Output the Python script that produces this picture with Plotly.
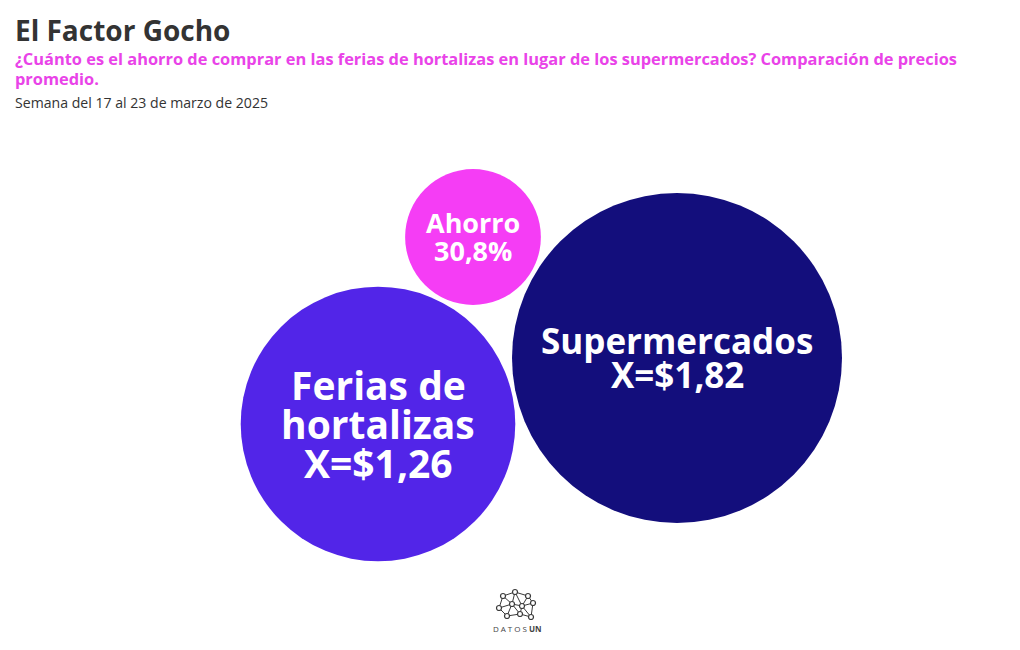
import plotly.graph_objects as go

# ---- data ----
categories = ["Ferias de hortalizas", "Supermercados", "Ahorro"]
label_lines = [["Ferias de", "hortalizas"], ["Supermercados"], ["Ahorro"]]
values = [1.26, 1.82, 0.308]          # average price (USD) and saving share
value_kind = ["price", "price", "pct"]

# ---- layout / style (not data) ----
# the page has an 8px body margin, so the figure is drawn in page pixels 8..1012
OFF = 8
W, H = 1020 - 2 * OFF, 650 - 2 * OFF
centers_x = [378, 677, 473]
centers_y = [424, 358, 237]
colors = ["#5225E8", "#130E7C", "#F53DF5"]
font_sizes = [39, 35, 27]
line_gap = [39, 34, 28]
max_diameter = 330
FONT = "Open Sans"

def fmt(v, kind):
    if kind == "price":
        return "X=$" + f"{v:.2f}".replace(".", ",")
    return f"{v*100:.1f}".replace(".", ",") + "%"

fig = go.Figure()
fig.add_trace(go.Scatter(
    x=centers_x, y=centers_y, mode="markers",
    marker=dict(size=values, sizemode="area",
                sizeref=2 * max(values) / max_diameter ** 2,
                color=colors, line=dict(width=0), opacity=1),
    hovertext=categories, hoverinfo="text", showlegend=False,
))

annotations = []
for i, cat in enumerate(categories):
    lines = label_lines[i] + [fmt(values[i], value_kind[i])]
    n = len(lines)
    for j, t in enumerate(lines):
        off = (j - (n - 1) / 2) * line_gap[i]
        annotations.append(dict(
            x=centers_x[i], y=centers_y[i], xref="x", yref="y",
            text=f"<b>{t}</b>", showarrow=False, yshift=-off + 1,
            font=dict(family=FONT, size=font_sizes[i], color="white"),
            xanchor="center", yanchor="middle"))

# titles
annotations += [
    dict(x=13, y=30, xref="x", yref="y", text="<b>El Factor Gocho</b>", showarrow=False,
         xanchor="left", yanchor="middle", font=dict(family=FONT, size=28, color="#333333")),
    dict(x=13, y=58, xref="x", yref="y",
         text="<b>¿Cuánto es el ahorro de comprar en las ferias de hortalizas en lugar de los supermercados? Comparación de precios</b>",
         showarrow=False, xanchor="left", yanchor="middle",
         font=dict(family=FONT, size=16.4, color="#E943E8")),
    dict(x=13, y=78, xref="x", yref="y", text="<b>promedio.</b>", showarrow=False,
         xanchor="left", yanchor="middle", font=dict(family=FONT, size=16.4, color="#E943E8")),
    dict(x=13, y=102, xref="x", yref="y", text="Semana del 17 al 23 de marzo de 2025", showarrow=False,
         xanchor="left", yanchor="middle", font=dict(family=FONT, size=14.1, color="#333333")),
    dict(x=517, y=628, xref="x", yref="y",
         text="<span style='letter-spacing:2px'>DATOS</span><b>UN</b>", showarrow=False,
         xanchor="center", yanchor="middle", font=dict(family=FONT, size=8, color="#444444")),
]

# logo network icon (decorative)
nodes_x = [503, 515, 528, 499, 512, 522, 533, 507, 520, 531]
nodes_y = [596, 592, 596, 608, 604, 606, 603, 616, 614, 617]
edges = [(0,1),(1,2),(0,3),(0,4),(1,4),(2,5),(2,6),(3,4),(4,5),(5,6),(3,7),(4,7),(4,8),(5,8),(6,9),(8,9),(7,8),(5,9),(1,5)]
ex, ey = [], []
for a, b in edges:
    ex += [nodes_x[a], nodes_x[b], None]
    ey += [nodes_y[a], nodes_y[b], None]
fig.add_trace(go.Scatter(x=ex, y=ey, mode="lines", line=dict(color="#3a3a3a", width=1),
                         hoverinfo="skip", showlegend=False))
fig.add_trace(go.Scatter(x=nodes_x, y=nodes_y, mode="markers",
                         marker=dict(size=5, color="white", line=dict(color="#3a3a3a", width=1.2)),
                         hoverinfo="skip", showlegend=False))

fig.update_layout(
    width=W, height=H, margin=dict(l=0, r=0, t=0, b=0),
    paper_bgcolor="white", plot_bgcolor="white",
    xaxis=dict(range=[OFF, OFF + W], visible=False, fixedrange=True),
    yaxis=dict(range=[OFF + H, OFF], visible=False, fixedrange=True),
    annotations=annotations,
)
fig.write_html("out.html")
